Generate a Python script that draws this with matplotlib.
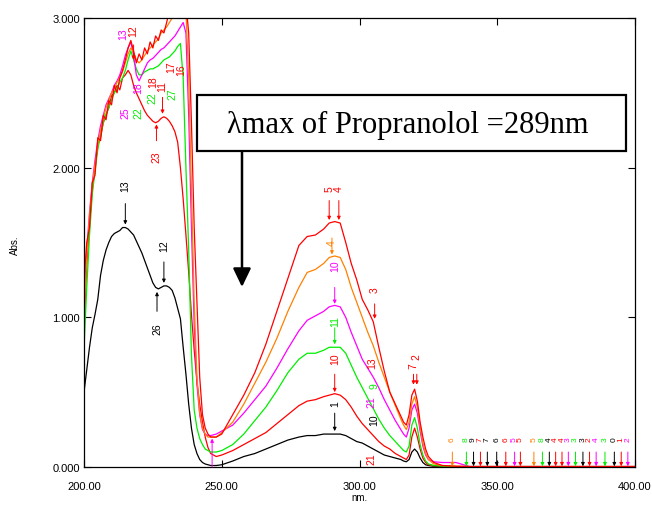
import matplotlib
matplotlib.use("Agg")
import matplotlib.pyplot as plt

matplotlib.rcParams['font.family'] = ['Liberation Sans', 'DejaVu Sans']

RED = '#ff0000'
ORANGE = '#ff8000'
MAGENTA = '#ff00ff'
GREEN = '#00ee00'
BLACK = '#000000'

# wavelength grid (nm)
wl = [200, 201, 202, 203, 204, 205, 206, 207, 208, 209, 210, 211, 212, 213, 214, 215,
      216, 217, 218, 219, 220, 221, 222, 223, 224, 225, 226, 227, 228, 229, 230, 231,
      232, 233, 234, 235, 236, 237, 238, 239, 240, 241, 242, 243, 244, 245, 246,
      248, 250, 254, 258, 262, 266, 270, 274, 278, 281, 284, 287, 289, 291, 293, 295,
      297, 299, 301, 303, 305, 307, 309, 311, 313, 315,
      316, 317, 318, 319, 320, 321, 322, 323, 324, 325,
      327, 330, 335, 340, 400]

abs_black = [0.50, 0.65, 0.80, 0.93, 1.02, 1.12, 1.28, 1.38, 1.45, 1.50, 1.54, 1.56, 1.57, 1.58, 1.60, 1.60,
             1.59, 1.57, 1.55, 1.51, 1.47, 1.43, 1.38, 1.33, 1.28, 1.23, 1.20, 1.19, 1.20, 1.21, 1.21, 1.20,
             1.18, 1.13, 1.06, 0.99, 0.80, 0.62, 0.42, 0.26, 0.15, 0.09, 0.05, 0.03, 0.02, 0.015, 0.01,
             0.01, 0.015, 0.04, 0.07, 0.09, 0.12, 0.15, 0.18, 0.20, 0.21, 0.21, 0.22, 0.22, 0.22, 0.22, 0.21,
             0.19, 0.17, 0.16, 0.14, 0.12, 0.10, 0.08, 0.07, 0.06, 0.05,
             0.04, 0.035, 0.05, 0.10, 0.12, 0.10, 0.06, 0.03, 0.015, 0.01,
             0.005, 0.003, 0.002, 0.002, 0.002]

abs_red1 = [0.95, 1.35, 1.62, 1.85, 2.00, 2.15, 2.20, 2.30, 2.35, 2.40, 2.48, 2.50, 2.55, 2.52, 2.60, 2.62,
            2.65, 2.62, 2.55, 2.50, 2.46, 2.42, 2.38, 2.35, 2.33, 2.31, 2.30, 2.31, 2.33, 2.34, 2.33, 2.31,
            2.28, 2.24, 2.17, 2.00, 1.79, 1.55, 1.30, 1.02, 0.78, 0.57, 0.42, 0.30, 0.20, 0.13, 0.09,
            0.07, 0.08, 0.11, 0.15, 0.19, 0.23, 0.29, 0.35, 0.41, 0.44, 0.45, 0.47, 0.48, 0.49, 0.48, 0.45,
            0.40, 0.34, 0.29, 0.25, 0.21, 0.17, 0.14, 0.12, 0.09, 0.07,
            0.06, 0.05, 0.08, 0.20, 0.26, 0.20, 0.12, 0.06, 0.03, 0.015,
            0.008, 0.005, 0.003, 0.003, 0.003]

abs_green = [0.79, 1.20, 1.55, 1.82, 1.98, 2.12, 2.22, 2.30, 2.36, 2.40, 2.45, 2.50, 2.53, 2.57, 2.60, 2.65,
             2.72, 2.78, 2.72, 2.66, 2.62, 2.62, 2.64, 2.65, 2.66, 2.66, 2.67, 2.68, 2.70, 2.72, 2.73, 2.74,
             2.76, 2.78, 2.81, 2.83, 2.60, 2.00, 1.45, 0.75, 0.38, 0.26, 0.19, 0.15, 0.12, 0.11, 0.10,
             0.10, 0.11, 0.15, 0.22, 0.31, 0.40, 0.51, 0.63, 0.72, 0.76, 0.76, 0.78, 0.80, 0.80, 0.80, 0.76,
             0.68, 0.60, 0.53, 0.46, 0.39, 0.32, 0.26, 0.21, 0.17, 0.13,
             0.11, 0.10, 0.14, 0.28, 0.33, 0.26, 0.15, 0.08, 0.04, 0.02,
             0.01, 0.005, 0.003, 0.003, 0.003]

abs_magenta = [1.10, 1.45, 1.70, 1.90, 2.05, 2.18, 2.28, 2.35, 2.42, 2.46, 2.50, 2.55, 2.58, 2.62, 2.68, 2.75,
               2.80, 2.84, 2.75, 2.62, 2.58, 2.62, 2.66, 2.70, 2.72, 2.73, 2.75, 2.77, 2.79, 2.80, 2.82, 2.84,
               2.86, 2.88, 2.91, 2.94, 2.97, 2.90, 2.35, 1.60, 0.95, 0.55, 0.35, 0.25, 0.22, 0.21, 0.21,
               0.22, 0.24, 0.28, 0.36, 0.45, 0.54, 0.66, 0.79, 0.91, 0.98, 1.01, 1.04, 1.07, 1.08, 1.07, 1.00,
               0.90, 0.81, 0.72, 0.66, 0.60, 0.53, 0.45, 0.38, 0.31, 0.25,
               0.22, 0.20, 0.26, 0.38, 0.42, 0.36, 0.24, 0.14, 0.08, 0.05,
               0.035, 0.03, 0.03, 0.003, 0.003]

abs_orange = [1.00, 1.40, 1.68, 1.88, 2.02, 2.15, 2.25, 2.33, 2.40, 2.45, 2.50, 2.53, 2.57, 2.60, 2.64, 2.70,
              2.76, 2.80, 2.77, 2.72, 2.70, 2.72, 2.75, 2.78, 2.80, 2.82, 2.84, 2.86, 2.90, 2.92, 2.94, 2.97,
              3.00, 3.05, 3.10, 3.10, 3.10, 3.05, 2.60, 1.85, 1.10, 0.60, 0.36, 0.26, 0.22, 0.20, 0.20,
              0.20, 0.23, 0.30, 0.42, 0.56, 0.70, 0.86, 1.04, 1.20, 1.30, 1.32, 1.36, 1.40, 1.41, 1.40, 1.32,
              1.20, 1.10, 1.00, 0.90, 0.81, 0.70, 0.60, 0.50, 0.41, 0.32,
              0.28, 0.25, 0.30, 0.42, 0.47, 0.40, 0.27, 0.16, 0.09, 0.05,
              0.02, 0.01, 0.005, 0.003, 0.003]

abs_red2 = [1.25, 1.50, 1.60, 1.90, 1.95, 2.20, 2.18, 2.35, 2.32, 2.45, 2.42, 2.55, 2.50, 2.60, 2.65, 2.72,
            2.80, 2.85, 2.78, 2.70, 2.76, 2.72, 2.80, 2.76, 2.84, 2.80, 2.88, 2.85, 2.92, 2.90, 2.97, 3.05,
            3.00, 3.10, 3.10, 3.10, 3.10, 3.10, 2.90, 2.30, 1.60, 1.10, 0.60, 0.35, 0.26, 0.22, 0.20,
            0.20, 0.22, 0.35, 0.48, 0.63, 0.82, 1.04, 1.26, 1.48, 1.54, 1.55, 1.59, 1.63, 1.64, 1.63, 1.50,
            1.36, 1.25, 1.12, 1.05, 0.97, 0.80, 0.64, 0.50, 0.42, 0.34,
            0.30, 0.28, 0.35, 0.48, 0.52, 0.44, 0.30, 0.20, 0.12, 0.07,
            0.03, 0.01, 0.005, 0.003, 0.003]

series = [(abs_black, BLACK), (abs_red1, RED), (abs_green, GREEN),
          (abs_magenta, MAGENTA), (abs_orange, ORANGE), (abs_red2, RED)]

# peak pick markers: wavelength, arrow tip, arrow tail, label position, label, colour
mark_wl = [215, 229, 226.5, 291, 291, 291, 291, 290, 289, 292.5,
           305.5, 319.6, 320.8, 228.5, 226.3, 218, 246.5]
mark_tip = [1.62, 1.23, 1.17, 0.24, 0.50, 0.82, 1.09, 1.42, 1.65, 1.65,
            0.99, 0.55, 0.55, 2.36, 2.29, 2.72, 0.19]
mark_tail = [1.76, 1.37, 1.04, 0.36, 0.62, 0.93, 1.20, 1.53, 1.78, 1.78,
             1.09, 0.62, 0.62, 2.47, 2.18, 2.82, 0.0]
mark_txt = [1.88, 1.48, 0.93, 0.43, 0.73, 0.98, 1.35, 1.50, 1.86, 1.86,
            1.19, 0.68, 0.74, 2.55, 2.08, 2.92, None]
mark_lab = ['13', '12', '26', '1', '10', '11', '10', '4', '5', '4',
            '3', '7', '2', '11', '23', '12', '']
mark_col = [BLACK, BLACK, BLACK, BLACK, RED, GREEN, MAGENTA, ORANGE, RED, RED,
            RED, RED, RED, RED, RED, RED, MAGENTA]

# extra labels without arrows (crowded areas)
extra_wl = [214.3, 215.0, 219.8, 219.8, 225.0, 225.0, 232.0, 231.8, 235.2,
            304.5, 305.5, 304.5, 305.5, 304.5]
extra_y = [2.90, 2.37, 2.37, 2.54, 2.47, 2.58, 2.50, 2.68, 2.66,
           0.70, 0.55, 0.44, 0.32, 0.06]
extra_lab = ['13', '25', '22', '18', '22', '18', '27', '17', '16',
             '13', '9', '21', '10', '21']
extra_col = [MAGENTA, MAGENTA, GREEN, MAGENTA, GREEN, RED, GREEN, RED, RED,
             RED, GREEN, MAGENTA, BLACK, RED]

# small noise picks on the baseline
noise_wl = [333.7, 338.8, 341.4, 343.9, 346.4, 349.8, 353.1, 356.3, 358.4, 363.3,
            366.4, 368.9, 371.2, 373.5, 375.8, 378.4, 381.1, 383.5, 385.9, 389.1,
            392.5, 395.0, 397.4]
noise_lab = ['6', '8', '9', '7', '7', '6', '6', '5', '5', '5',
             '8', '4', '4', '4', '3', '3', '3', '2', '4', '3',
             '0', '1', '2']
noise_col = [ORANGE, GREEN, BLACK, RED, BLACK, BLACK, RED, MAGENTA, RED, ORANGE,
             GREEN, BLACK, RED, RED, MAGENTA, GREEN, BLACK, RED, MAGENTA, GREEN,
             BLACK, RED, MAGENTA]


def draw_mark(ax, x, tip, tail, ty, lab, col, fs=7.5):
    ax.annotate('', xy=(x, tip), xytext=(x, tail),
                arrowprops=dict(arrowstyle='-|>', color=col, lw=0.7,
                                mutation_scale=5, shrinkA=0, shrinkB=0))
    if ty is not None and lab:
        ax.text(x, ty, lab, rotation=90, color=col, fontsize=fs,
                ha='center', va='center', clip_on=True)


def main():
    fig = plt.figure(figsize=(6.52, 5.10), dpi=100)
    ax = fig.add_axes([84 / 652, 42 / 510, 551 / 652, 449 / 510])

    for ys, col in series:
        ax.plot(wl, ys, color=col, lw=0.9)

    for i in range(len(mark_wl)):
        draw_mark(ax, mark_wl[i], mark_tip[i], mark_tail[i], mark_txt[i], mark_lab[i], mark_col[i])
    for x, y, lab, col in zip(extra_wl, extra_y, extra_lab, extra_col):
        ax.text(x, y, lab, rotation=90, color=col, fontsize=7.5,
                ha='center', va='center', clip_on=True)
    for x, lab, col in zip(noise_wl, noise_lab, noise_col):
        draw_mark(ax, x, 0.005, 0.10, 0.19, lab, col, fs=6)

    ax.set_xlim(200, 400)
    ax.set_ylim(0, 3)
    ax.set_xticks([200, 250, 300, 350, 400])
    ax.set_xticklabels(['200.00', '250.00', '300.00', '350.00', '400.00'])
    ax.set_yticks([0, 1, 2, 3])
    ax.set_yticklabels(['0.000', '1.000', '2.000', '3.000'])
    ax.tick_params(direction='in', top=True, right=True, length=5, width=0.8,
                   labelsize=8, colors='black')
    ax.tick_params(axis='x', pad=10)
    ax.tick_params(axis='y', pad=3)
    for s in ax.spines.values():
        s.set_linewidth(0.9)
    ax.set_xlabel('nm.', fontsize=7, labelpad=1)
    fig.text(15 / 652, 1 - 245 / 510, 'Abs.', rotation=90, fontsize=7,
             ha='center', va='center')

    # callout box and arrow
    box = matplotlib.patches.Rectangle((197 / 652, 1 - 152 / 510), 429 / 652, 56 / 510,
                                       transform=fig.transFigure, facecolor='white',
                                       edgecolor='black', lw=1.6, zorder=5)
    fig.add_artist(box)
    fig.text(408 / 652, 1 - 125 / 510, '\u03bbmax of Propranolol =289nm',
             family=['Liberation Serif', 'DejaVu Serif'], fontsize=22,
             ha='center', va='center', zorder=6)
    fig.add_artist(matplotlib.patches.FancyArrowPatch(
        (242 / 652, 1 - 152 / 510), (242 / 652, 1 - 288 / 510),
        transform=fig.transFigure, arrowstyle='-|>,head_length=0.75,head_width=0.36',
        mutation_scale=15, lw=1.8, color='black', shrinkA=0, shrinkB=0))

    fig.savefig('out.png', dpi=100)


if __name__ == '__main__':
    main()
